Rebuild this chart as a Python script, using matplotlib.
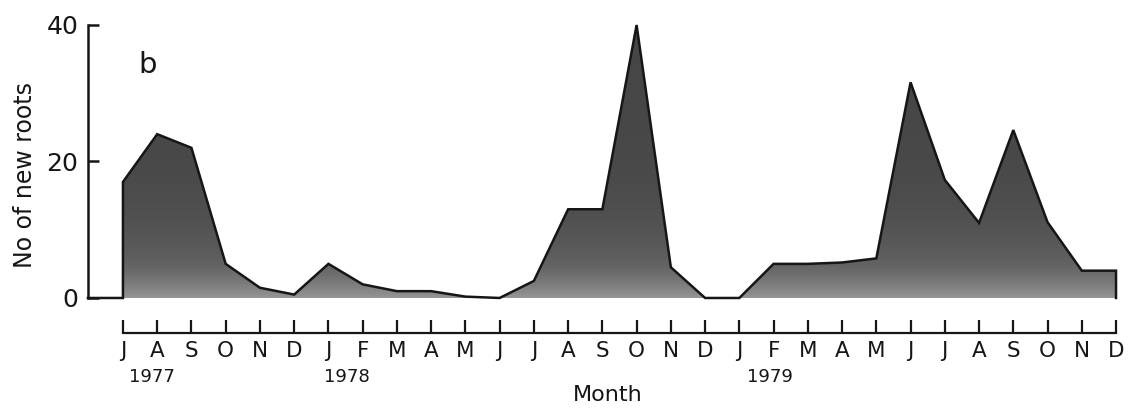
import numpy as np
import matplotlib
matplotlib.use("Agg")
import matplotlib.pyplot as plt
from matplotlib import transforms
from matplotlib.colors import LinearSegmentedColormap

# monthly counts of new roots, Jul 1977 - Dec 1979
months = ["J", "A", "S", "O", "N", "D",
          "J", "F", "M", "A", "M", "J", "J", "A", "S", "O", "N", "D",
          "J", "F", "M", "A", "M", "J", "J", "A", "S", "O", "N", "D"]
roots = [17, 24, 22, 5, 1.5, 0.5,
         5, 2, 1, 1, 0.2, 0, 2.5, 13, 13, 40, 4.5, 0,
         0, 5, 5, 5.2, 5.8, 31.6, 17.3, 11, 24.6, 11.1, 4, 4]
years = ["1977", "1978", "1979"]
year_pos = [0.85, 6.55, 18.9]
yticks = [0, 20, 40]

x = np.arange(len(roots))
ink = "#161616"
plt.rcParams["font.family"] = "DejaVu Sans"

fig = plt.figure(figsize=(11.29, 4.16), dpi=100)
ax = fig.add_axes([0.0779, 0.2837, 0.9185, 0.65625])
xl = (-1.022, 29.26)
ax.set_xlim(*xl)
ax.set_ylim(0, 40)

# shaded area: gradient image clipped to the filled polygon
poly = ax.fill_between(x, 0, roots, facecolor="none", edgecolor="none")
yy = np.linspace(0, 40, 400)
shade = 1 - np.exp(-yy / 7.0)
grad = np.tile(shade[:, None], (1, 2))
cmap = LinearSegmentedColormap.from_list("g", ["#959595", "#636363", "#464646"])
im = ax.imshow(grad, extent=[0, len(roots) - 1, 0, 40], origin="lower",
               aspect="auto", cmap=cmap, vmin=0, vmax=1, zorder=1)
im.set_clip_path(poly.get_paths()[0], transform=ax.transData)

# outline, including the baseline from the axis
xs = np.concatenate([[xl[0], 0], x, [x[-1]]])
ys = np.concatenate([[0, 0], roots, [0]])
ax.plot(xs, ys, color=ink, lw=1.8, clip_on=False, zorder=3,
        solid_joinstyle="miter")

for s in ["top", "right", "bottom"]:
    ax.spines[s].set_visible(False)
ax.spines["left"].set_linewidth(1.8)
ax.spines["left"].set_color(ink)
ax.set_xticks([])
ax.set_yticks(yticks)
ax.tick_params(axis="y", direction="in", length=8, width=1.8, pad=7,
               labelsize=18, colors=ink)
ax.text(0.73, 34.1, "b", fontsize=21, ha="center", va="center", color=ink)

# separate month axis below the plot
ax2 = fig.add_axes([0.0779, 0.1995, 0.9185, 0.03])
ax2.set_xlim(*xl)
ax2.patch.set_visible(False)
for s in ["top", "right", "left"]:
    ax2.spines[s].set_visible(False)
ax2.spines["bottom"].set_bounds(0, len(roots) - 1)
ax2.spines["bottom"].set_linewidth(1.6)
ax2.spines["bottom"].set_color(ink)
ax2.set_yticks([])
ax2.set_xticks(x)
ax2.set_xticklabels(months)
ax2.tick_params(axis="x", direction="in", length=9.5, width=1.6, pad=6,
                labelsize=15.5, colors=ink)

tr = transforms.blended_transform_factory(ax2.transData, fig.transFigure)
for yr, p in zip(years, year_pos):
    ax2.text(p, 0.094, yr, transform=tr, ha="center", va="center",
             fontsize=13, color=ink)

fig.text(0.538, 0.05, "Month", ha="center", va="center", fontsize=16,
         color=ink)
fig.text(0.022, 0.579, "No of new roots", rotation=90, ha="center",
         va="center", fontsize=17, color=ink)

fig.savefig("out.png", dpi=100, facecolor="white")
